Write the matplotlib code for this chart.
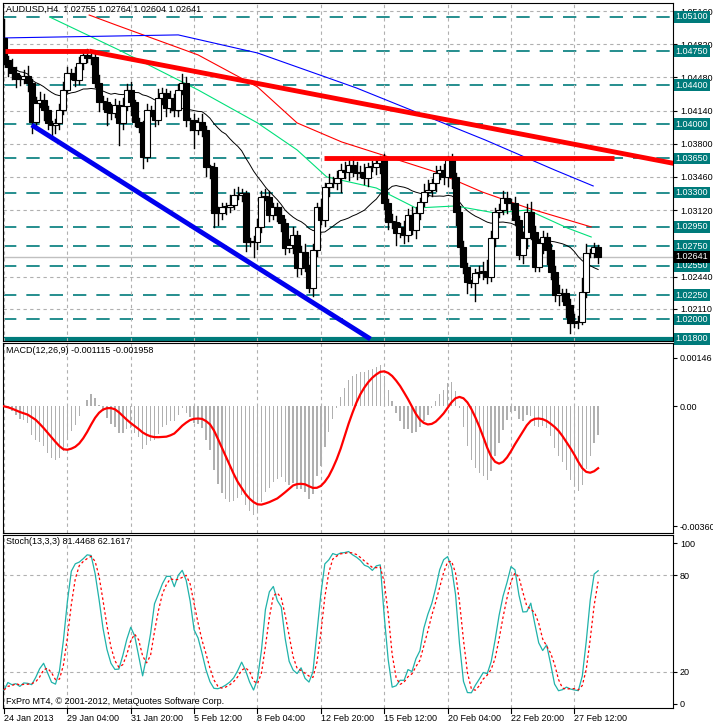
import numpy as np
import pandas as pd
import matplotlib
matplotlib.use('Agg')
import matplotlib.pyplot as plt
from matplotlib.patches import Rectangle

plt.rcParams['font.family'] = 'Liberation Sans'

## Price data (H4 closes)
closes = [
    1.04659, 1.04591, 1.04522, 1.04461, 1.04461, 1.04495, 1.04420, 1.04027, 1.04215, 1.04249,
    1.04147, 1.04010, 1.03993, 1.04010, 1.04147, 1.04352, 1.04522, 1.04522, 1.04454, 1.04625,
    1.04710, 1.04676, 1.04693, 1.04420, 1.04232, 1.04232, 1.04130, 1.04113, 1.04198, 1.04010,
    1.04188, 1.04352, 1.04232, 1.04027, 1.03976, 1.03668, 1.04147, 1.04147, 1.04044, 1.04266,
    1.04317, 1.04164, 1.04266, 1.04147, 1.04352, 1.04420, 1.04044, 1.04044, 1.03942, 1.04027,
    1.03942, 1.03566, 1.03566, 1.03088, 1.03088, 1.03156, 1.03156, 1.03173, 1.03276, 1.03276,
    1.03293, 1.02797, 1.02797, 1.02797, 1.02951, 1.03259, 1.03259, 1.03071, 1.03156, 1.03071,
    1.02985, 1.02729, 1.02763, 1.02866, 1.02524, 1.02695, 1.02541, 1.02319, 1.02712, 1.03156,
    1.03019, 1.03361,
    1.03395, 1.03395, 1.03446, 1.03532, 1.03514, 1.03583, 1.03514, 1.03497, 1.03514, 1.03446,
    1.03566, 1.03566, 1.03600, 1.03634, 1.03190, 1.03002, 1.03002, 1.02883, 1.02951, 1.02865,
    1.03070, 1.02917, 1.03088, 1.03207, 1.03310, 1.03327, 1.03395, 1.03497, 1.03532, 1.03463,
    1.03634, 1.03463, 1.03105, 1.02746, 1.02541, 1.02387, 1.02370, 1.02473, 1.02490, 1.02490,
    1.02438, 1.02831, 1.03105, 1.03122, 1.03241, 1.03190, 1.03190, 1.03019, 1.02660, 1.02831,
    1.03105, 1.02900, 1.02541, 1.02780, 1.02848, 1.02712, 1.02490, 1.02251, 1.02268, 1.02268,
    1.02148, 1.01960, 1.01977, 1.01977, 1.02285, 1.02678, 1.02678, 1.02746, 1.02641,
]
first_open = 1.04880
# wick lengths in pips above / below the candle body
wick_up = [
    20, 4, 8, 6, 4, 6, 10, 4, 6, 8, 6, 4, 2, 4, 6, 8, 6, 4, 6, 6,
    4, 6, 4, 4, 8, 6, 4, 8, 6, 4, 8, 6, 8, 2, 4, 6, 6, 4, 8, 10,
    6, 4, 8, 4, 6, 10, 6, 2, 6, 4, 8, 4, 2, 4, 6, 4, 4, 10, 6, 8,
    4, 2, 4, 6, 8, 6, 8, 6, 4, 4, 8, 4, 6, 8, 4, 6, 8, 2, 6, 4,
    8, 4, 10, 6, 8, 6, 8, 6, 8, 10, 6, 8, 4, 6, 4, 4, 6, 4, 8, 6,
    4, 6, 6, 8, 6, 4, 8, 10, 4, 8, 4, 6, 4, 6, 4, 6, 6, 4, 2, 4,
    6, 10, 12, 8, 4, 6, 8, 6, 4, 6, 4, 6, 8, 10, 6, 4, 6, 4, 6, 6,
    8, 4, 4, 6, 8, 6, 14, 10, 4, 4, 2,
]
wick_dn = [
    4, 10, 6, 8, 6, 4, 8, 12, 8, 4, 10, 6, 14, 8, 6, 4, 2, 6, 6, 4,
    6, 4, 6, 4, 10, 8, 14, 6, 4, 22, 6, 4, 14, 4, 6, 12, 4, 6, 6, 4,
    6, 8, 4, 6, 6, 4, 6, 10, 18, 4, 6, 10, 12, 14, 12, 6, 8, 6, 4, 4,
    6, 10, 4, 16, 8, 6, 4, 6, 4, 6, 8, 6, 4, 8, 8, 6, 4, 4, 8, 6,
    4, 6, 10, 4, 6, 14, 6, 8, 4, 6, 4, 6, 8, 4, 8, 10, 6, 8, 6, 12,
    4, 8, 6, 4, 8, 6, 4, 4, 6, 8, 6, 8, 10, 12, 14, 8, 6, 12, 4, 18,
    4, 8, 6, 4, 8, 6, 4, 10, 6, 4, 4, 8, 10, 8, 4, 4, 10, 14, 8, 6,
    10, 8, 12, 10, 4, 6, 2, 6, 4, 4, 6,
]

date_labels = ['24 Jan 2013', '29 Jan 04:00', '31 Jan 20:00', '5 Feb 12:00', '8 Feb 04:00',
               '12 Feb 20:00', '15 Feb 12:00', '20 Feb 04:00', '22 Feb 20:00', '27 Feb 12:00']
date_idx = [0, 16, 32, 48, 64, 80, 96, 112, 128, 144]

price_ticks = [1.05160, 1.04820, 1.04480, 1.04140, 1.03800, 1.03460, 1.03120, 1.02440, 1.02110]
levels = [1.05100, 1.04750, 1.04400, 1.04000, 1.03650, 1.03300, 1.02950, 1.02750, 1.02550, 1.02250, 1.02000]
support = 1.01800

# moving-average lines (bar index, price)
ma_green = [(11.5, 1.05100), (29, 1.04762), (49, 1.04352), (64, 1.04014), (74, 1.03737), (81.5, 1.03460),
            (94, 1.03347), (104, 1.03142), (114, 1.03163), (124, 1.03091), (132.25, 1.03122), (142.25, 1.02937),
            (148.25, 1.02845)]
ma_red = [(21.5, 1.05120), (28.25, 1.05018), (49, 1.04711), (64, 1.04383), (74, 1.04014), (85.25, 1.03819),
          (109, 1.03511), (120.75, 1.03306), (132.25, 1.03142), (148.25, 1.02948)]
ma_blue = [(0, 1.04885), (44, 1.04916), (64, 1.04731), (89, 1.04372), (104, 1.04126), (121.5, 1.03839),
           (139, 1.03532), (148.75, 1.03368)]

# trendlines (bar index, price)
red_lines = [[(0.25, 1.04750), (21.5, 1.04750)],
             [(21.5, 1.04750), (169, 1.03600)],
             [(80.75, 1.03650), (154, 1.03650)]]
blue_line = [(7, 1.03993), (92.5, 1.01800)]

W, H = 713, 728
fig = plt.figure(figsize=(W / 100, H / 100), dpi=100)
fig.patch.set_facecolor('white')
L, R = 3 / W, 670 / W
FS = 6.5

def panel(top, bottom):
    return fig.add_axes([L, 1 - bottom / H, R, (bottom - top) / H])

ax = panel(3, 341)
axm = panel(343, 533)
axs = panel(535, 708)

xmin, xmax = -0.25, 168.9
grid_kw = dict(color='#b0b0b0', ls=(0, (3, 3)), lw=0.8)
for a in (ax, axm, axs):
    a.set_xlim(xmin, xmax)
    a.set_xticks(date_idx)
    a.tick_params(axis='x', length=0, labelbottom=False)
    a.tick_params(axis='y', labelsize=FS, length=3, pad=2, colors='black', right=True, left=False,
                  labelright=True, labelleft=False, direction='out')
    for sp in a.spines.values():
        sp.set_color('black')
        sp.set_linewidth(0.8)
    a.grid(True, axis='x', **grid_kw)

closes_a = np.array(closes)
opens = np.concatenate([[first_open], closes_a[:-1]])
highs = np.maximum(opens, closes_a) + np.array(wick_up) * 1e-4
lows = np.minimum(opens, closes_a) - np.array(wick_dn) * 1e-4
n = len(closes)

## main chart
ax.set_ylim(1.01779, 1.05243)
ax.set_yticks(price_ticks)
ax.set_yticklabels(['%.5f' % t for t in price_ticks])
for t in price_ticks:
    ax.axhline(t, zorder=0, **grid_kw)
for lv in levels:
    ax.axhline(lv, color='#007b7b', lw=1.2, ls=(0, (8, 6)), zorder=1)
ax.axhline(support, color='#007b7b', lw=3, zorder=1)
ax.axhline(closes[-1], color='#c0c0c0', lw=1, zorder=1)

for i in range(n):
    o, c = opens[i], closes_a[i]
    ax.plot([i, i], [lows[i], highs[i]], color='black', lw=1, zorder=4)
    fc = 'white' if c >= o else 'black'
    h = max(abs(c - o), 0.00004)
    ax.add_patch(Rectangle((i - 0.75, min(o, c)), 1.5, h, facecolor=fc, edgecolor='black', lw=0.8, zorder=5))

ma_black = pd.Series(closes).rolling(21, min_periods=1).mean()
ax.plot(range(n), ma_black, color='black', lw=0.7, zorder=3)
for pts, col in ((ma_green, '#00e07a'), (ma_red, '#ff0000'), (ma_blue, '#0000ff')):
    xs, ys = zip(*pts)
    ax.plot(xs, ys, color=col, lw=0.8, zorder=3)
for seg in red_lines:
    xs, ys = zip(*seg)
    ax.plot(xs, ys, color='#ff0000', lw=3.5, zorder=6, solid_capstyle='butt')
xs, ys = zip(*blue_line)
ax.plot(xs, ys, color='#0000ee', lw=3.5, zorder=6, solid_capstyle='butt')

for lv in levels + [support]:
    ax.text(1.004, lv, '%.5f' % lv, transform=ax.get_yaxis_transform(), fontsize=FS, color='white',
            va='center', ha='left', bbox=dict(boxstyle='square,pad=0.15', fc='#007b7b', ec='none'), zorder=10,
            clip_on=False)
ax.text(1.004, closes[-1], '%.5f' % closes[-1], transform=ax.get_yaxis_transform(), fontsize=FS,
        color='white', va='center', ha='left', bbox=dict(boxstyle='square,pad=0.15', fc='black', ec='none'),
        zorder=11, clip_on=False)
ax.text(0.004, 0.995, 'AUDUSD,H4  1.02755 1.02764 1.02604 1.02641', transform=ax.transAxes,
        fontsize=FS, va='top', ha='left')

## MACD
s = pd.Series(closes)
macd = s.ewm(span=12, adjust=False).mean() - s.ewm(span=26, adjust=False).mean()
signal = macd.rolling(9, min_periods=1).mean()
axm.bar(range(n), macd, width=0.35, color='#b0b0b0', zorder=2)
axm.plot(range(n), signal, color='#ff0000', lw=1.6, zorder=3)
axm.set_ylim(-0.0038, 0.0019)
axm.set_yticks([0.00146, 0.0, -0.0036])
axm.set_yticklabels(['0.00146', '0.00', '-0.00360'])
axm.text(0.004, 0.985, 'MACD(12,26,9) -0.001115 -0.001958', transform=axm.transAxes, fontsize=FS,
         va='top', ha='left')

## Stochastic
hh = pd.Series(highs).rolling(13, min_periods=1).max()
ll = pd.Series(lows).rolling(13, min_periods=1).min()
num = (s - ll).rolling(3, min_periods=1).sum()
den = (hh - ll).rolling(3, min_periods=1).sum()
k = 100 * num / den
d = k.rolling(3, min_periods=1).mean()
axs.plot(range(n), k, color='#20b2aa', lw=0.9, zorder=3)
axs.plot(range(n), d, color='#ff0000', lw=0.9, ls=(0, (2, 2)), zorder=3)
axs.set_ylim(-2.5, 105)
axs.set_yticks([100, 80, 20, 0])
for lv in (80, 20):
    axs.axhline(lv, color='#b0b0b0', lw=0.8, ls=(0, (3, 3)), zorder=1)
axs.text(0.004, 0.99, 'Stoch(13,3,3) 81.4468 62.1617', transform=axs.transAxes, fontsize=FS,
         va='top', ha='left')
axs.text(0.004, 0.01, 'FxPro MT4, \u00a9 2001-2012, MetaQuotes Software Corp.', transform=axs.transAxes,
         fontsize=FS, va='bottom', ha='left')

for xi, lab in zip(date_idx, date_labels):
    axs.text(xi, -0.035, lab, transform=axs.get_xaxis_transform(), fontsize=FS, ha='left', va='top')
    axs.axvline(xi, ymin=-0.03, ymax=0, color='black', lw=0.8, clip_on=False)

fig.savefig('out.png', dpi=100)
